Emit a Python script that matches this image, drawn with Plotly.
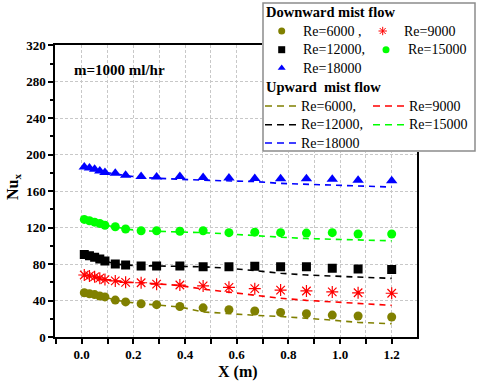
import plotly.graph_objects as go

# ---------------- data ----------------
x_pos = [0.01, 0.03, 0.05, 0.07, 0.09, 0.13, 0.17, 0.23, 0.29, 0.38, 0.47,
         0.57, 0.67, 0.77, 0.87, 0.97, 1.07, 1.2]

down_re6000 = [48.5, 47.5, 46.5, 45, 44, 40.5, 38.5, 36.5, 35.5, 33.5, 32, 30, 28.5, 27, 25.5, 24, 23, 22]
down_re9000 = [68, 67, 66, 64.5, 63, 61.5, 60, 59.5, 58, 57, 56, 54.5, 53, 51.5, 50.5, 49.5, 48.5, 48]
down_re12000 = [90.5, 89, 87.5, 85.5, 83.5, 80, 79, 78, 78, 78, 77, 77, 77.5, 77, 77, 75.5, 74.5, 74]
down_re15000 = [129, 127.5, 126, 124.5, 122.5, 121, 118.5, 116.5, 116.5, 116, 116.5, 114.5, 115, 114.5, 114, 114.5, 113, 113]
down_re18000 = [186.5, 185.5, 184, 182, 180.5, 179.5, 177.5, 176, 175.5, 176, 175, 174.5, 174, 173.5, 173.5, 173, 172, 171.5]

up_re6000 = [48.5, 47.5, 46.5, 45, 44, 40.5, 38.5, 36.5, 35, 33, 27.5, 25.5, 23.8, 22.5, 20.8, 18.5, 16, 14.6]
up_re9000 = [68, 67, 66, 64.5, 63, 61.5, 60, 59.5, 58, 56.5, 52.5, 49, 45.5, 42.5, 40.2, 38.5, 36.5, 34.7]
up_re12000 = [90.5, 89, 87.5, 85.5, 83.5, 80, 79, 78, 78, 77.5, 77, 75.5, 72.5, 70, 68, 66.8, 65.4, 64.3]
up_re15000 = [129, 127.5, 126, 124.5, 122.5, 121, 118.5, 116.5, 116, 115.5, 114.5, 113, 111, 109.5, 108, 107, 106, 105.5]
up_re18000 = [186.5, 185.5, 184, 182, 180.5, 179, 177, 175, 174, 173, 172, 171.5, 170.5, 168.5, 167.5, 166.5, 165.5, 164.5]

series_names = ["Re=6000", "Re=9000", "Re=12000", "Re=15000", "Re=18000"]
x_tick_vals = [0.0, 0.2, 0.4, 0.6, 0.8, 1.0, 1.2]
y_tick_vals = [0, 40, 80, 120, 160, 200, 240, 280, 320]

# ---------------- styling ----------------
W, H = 480, 383
colors = ["#808000", "#FF0000", "#000000", "#00FF00", "#0000FF"]
symbols = ["circle", "asterisk-open", "square", "circle", "triangle-up"]
msizes = [9, 10, 9, 9, 10]
SERIF = "Liberation Serif"

downs = [down_re6000, down_re9000, down_re12000, down_re15000, down_re18000]
ups = [up_re6000, up_re9000, up_re12000, up_re15000, up_re18000]

fig = go.Figure()

for name, c, yv in zip(series_names, colors, ups):
    fig.add_trace(go.Scatter(
        x=x_pos, y=yv, mode="lines", name="Upward " + name,
        line=dict(color=c, width=1.6, dash="6px,5px"),
        showlegend=False, hoverinfo="skip"))

for name, c, s, ms, yv in zip(series_names, colors, symbols, msizes, downs):
    mk = dict(color=c, symbol=s, size=ms)
    if s == "asterisk-open":
        mk["line"] = dict(color=c, width=1.2)
    fig.add_trace(go.Scatter(
        x=x_pos, y=yv, mode="markers", name="Downward " + name,
        marker=mk, showlegend=False, hoverinfo="skip"))

# plot area in pixels
PL, PR, PT, PB = 55, 417, 45.3, 337

def px_x(p):
    return p / W

def px_y(p):
    return (H - p) / H

grid_col = "#c8c8c8"
fig.update_layout(
    width=W, height=H,
    margin=dict(l=0, r=0, t=0, b=0),
    paper_bgcolor="white", plot_bgcolor="white",
    showlegend=False,
    xaxis=dict(
        domain=[px_x(PL), px_x(PR)], range=[-0.1034, 1.298],
        showline=True, linecolor="black", linewidth=1.5, mirror=True,
        ticks="outside", ticklen=5, tickwidth=1.5, tickcolor="black",
        tickvals=x_tick_vals, ticktext=[f"{v:.1f}" for v in x_tick_vals],
        tickfont=dict(family=SERIF, size=13, color="black", weight="bold"),
        showgrid=False, zeroline=False, automargin=False,
        minor=dict(dtick=0.1, tick0=0, ticks="outside", ticklen=5, tickwidth=1.5,
                   tickcolor="black", showgrid=True, gridcolor=grid_col,
                   griddash="3px,2px", gridwidth=1),
    ),
    yaxis=dict(
        domain=[px_y(PB), px_y(PT)], range=[0, 320],
        showline=True, linecolor="black", linewidth=1.5, mirror=True,
        ticks="outside", ticklen=5, tickwidth=1.5, tickcolor="black",
        tickvals=y_tick_vals, ticktext=[str(v) for v in y_tick_vals],
        tickfont=dict(family=SERIF, size=13, color="black", weight="bold"),
        showgrid=True, gridcolor=grid_col, griddash="3px,2px", gridwidth=1,
        zeroline=False, automargin=False,
        minor=dict(dtick=20, tick0=0, ticks="outside", ticklen=3, tickwidth=1.5,
                   tickcolor="black", showgrid=False),
    ),
)

# ---------------- custom legend (pixel coordinate overlay) ----------------
LX0, LX1, LY0, LY1 = 262, 476, 2, 152
fig.update_layout(
    xaxis2=dict(domain=[px_x(LX0), px_x(LX1)], range=[LX0, LX1], visible=False,
                fixedrange=True, anchor="y2"),
    yaxis2=dict(domain=[px_y(LY1), px_y(LY0)], range=[LY1, LY0], visible=False,
                fixedrange=True, anchor="x2"),
)
fig.add_shape(type="rect", xref="x2", yref="y2", x0=LX0 + 1, x1=LX1 - 1, y0=LY0 + 1, y1=LY1 - 1,
              fillcolor="white", line=dict(color="#8c8c8c", width=1.5), layer="below")

row_y = [31, 49.7, 68]
mk_pos = [(281.7, row_y[0]), (382.7, row_y[0]), (281.7, row_y[1]), (386, row_y[1]), (281.7, row_y[2])]
for (mx, my), c, s in zip(mk_pos, colors, symbols):
    mk = dict(color=c, symbol=s, size=7)
    if s == "asterisk-open":
        mk["line"] = dict(color=c, width=1)
    fig.add_trace(go.Scatter(x=[mx], y=[my], xaxis="x2", yaxis="y2", mode="markers",
                             marker=mk, showlegend=False, hoverinfo="skip"))

up_row_y = [106, 124.7, 143]
ln_pos = [((265, 299), up_row_y[0]), ((373, 406), up_row_y[0]), ((265, 299), up_row_y[1]),
          ((373, 406), up_row_y[1]), ((265, 299), up_row_y[2])]
for ((x0, x1), ly), c in zip(ln_pos, colors):
    fig.add_trace(go.Scatter(x=[x0, x1], y=[ly, ly], xaxis="x2", yaxis="y2", mode="lines",
                             line=dict(color=c, width=1.5, dash="7px,5px"),
                             showlegend=False, hoverinfo="skip"))

def leg_text(x, y, t, bold=False, size=14):
    fig.add_annotation(x=x, y=y, xref="x2", yref="y2", text=t, showarrow=False,
                       xanchor="left", yanchor="middle",
                       font=dict(family=SERIF, size=size, color="black",
                                 weight="bold" if bold else "normal"))

leg_text(264, 12, "Downward mist flow", bold=True, size=14.5)
leg_text(301, row_y[0], "Re=6000 ,")
leg_text(402, row_y[0], "Re=9000")
leg_text(301, row_y[1], "Re=12000,")
leg_text(406, row_y[1], "Re=15000")
leg_text(301, row_y[2], "Re=18000")
leg_text(264, 87, "Upward\u00a0 mist flow", bold=True, size=14.5)
leg_text(299, up_row_y[0], "Re=6000,")
leg_text(407, up_row_y[0], "Re=9000")
leg_text(299, up_row_y[1], "Re=12000,")
leg_text(407, up_row_y[1], "Re=15000")
leg_text(299, up_row_y[2], "Re=18000")

# ---------------- titles & annotation ----------------
fig.add_annotation(x=px_x(72), y=px_y(70.5), xref="paper", yref="paper",
                   text="m=1000 ml/hr", showarrow=False, xanchor="left", yanchor="middle",
                   font=dict(family=SERIF, size=15, color="black", weight="bold"))
fig.add_annotation(x=px_x(238), y=px_y(372), xref="paper", yref="paper",
                   text="X (m)", showarrow=False, xanchor="center", yanchor="middle",
                   font=dict(family=SERIF, size=16, color="black", weight="bold"))
fig.add_annotation(x=px_x(13), y=px_y(187), xref="paper", yref="paper",
                   text="Nu<sub>x</sub>", showarrow=False, textangle=-90,
                   xanchor="center", yanchor="middle",
                   font=dict(family=SERIF, size=16, color="black", weight="bold"))

fig.write_html("out.html",
               config={"displayModeBar": False},
               post_script="document.body.style.margin='0';document.body.style.overflow='hidden';")
